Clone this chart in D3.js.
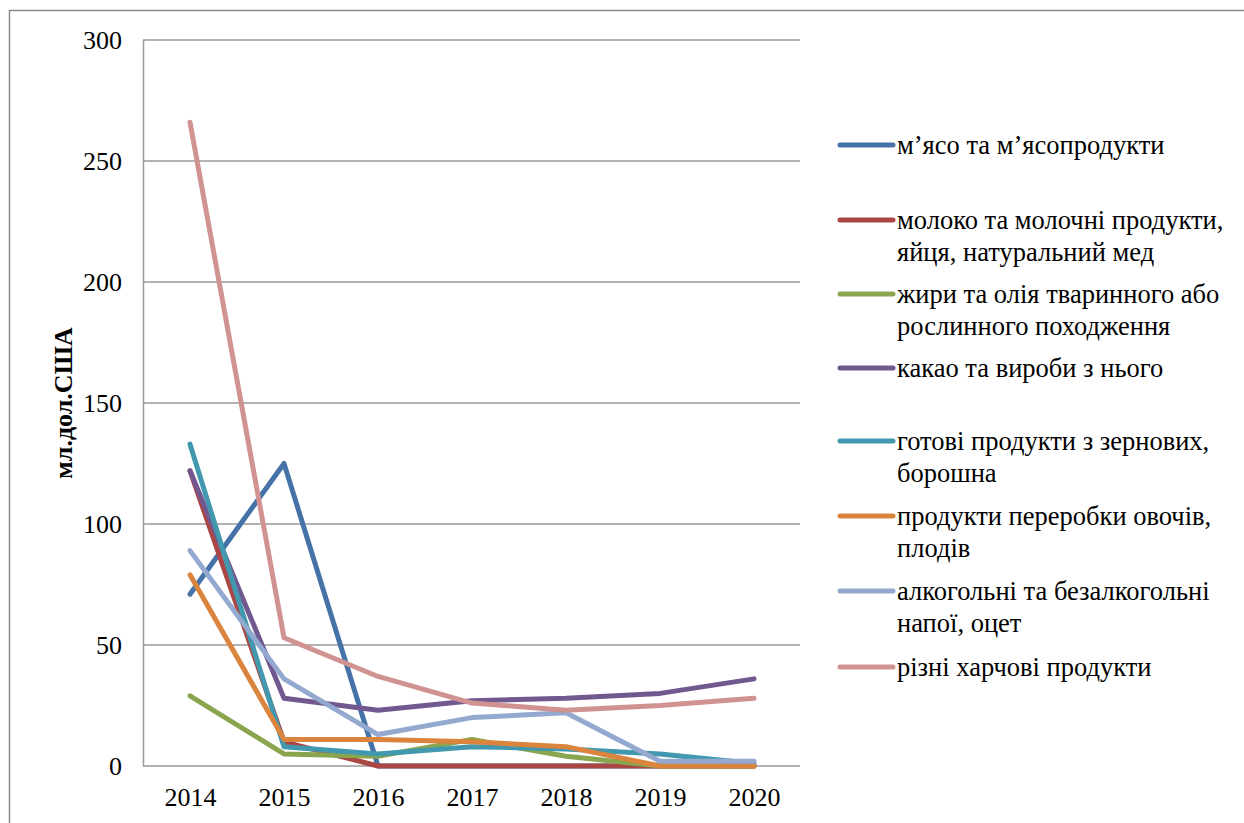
<!DOCTYPE html>
<html>
<head>
<meta charset="utf-8">
<script src="https://cdn.jsdelivr.net/npm/d3@7"></script>
<style>
  body { margin: 0; background: #fff; }
  svg text { font-family: "Times New Roman", "Liberation Serif", "DejaVu Serif", serif !important; fill: #000; }
</style>
</head>
<body>
<svg id="chart" width="1244" height="823"></svg>
<script>
// Data
const years = ['2014', '2015', '2016', '2017', '2018', '2019', '2020'];
const yTicks = [0, 50, 100, 150, 200, 250, 300];

const seriesNames = [
    ['м’ясо та м’ясопродукти'],
    ['молоко та молочні продукти,', 'яйця, натуральний мед'],
    ['жири та олія тваринного або', 'рослинного походження'],
    ['какао та вироби з нього'],
    ['готові продукти з зернових,', 'борошна'],
    ['продукти переробки овочів,', 'плодів'],
    ['алкогольні та безалкогольні', 'напої, оцет'],
    ['різні харчові продукти']
];
const seriesColors = ['#4572A7', '#AA4643', '#89A54E', '#71588F', '#4198AF', '#DB843D', '#93A9CF', '#D19392'];

const meat = [71, 125, 0, 0, 0, 0, 0];
const milk = [122, 10, 0, 0, 0, 0, 0];
const fats = [29, 5, 4, 11, 4, 0, 0];
const cocoa = [122, 28, 23, 27, 28, 30, 36];
const cereals = [133, 8, 5, 8, 7, 5, 1];
const vegetables = [79, 11, 11, 10, 8, 0, 0];
const drinks = [89, 36, 13, 20, 22, 2, 2];
const misc = [266, 53, 37, 26, 23, 25, 28];

const seriesValues = [meat, milk, fats, cocoa, cereals, vegetables, drinks, misc];

const svg = d3.select('#chart');

// outer frame (top + left only visible)
svg.append('path')
    .attr('d', 'M9.5,823 L9.5,10.5 L1244,10.5')
    .attr('fill', 'none')
    .attr('stroke', '#888')
    .attr('stroke-width', 1.5);

const plot = { left: 143, right: 801, top: 40, bottom: 766 };

const x = d3.scalePoint()
    .domain(years)
    .range([plot.left, plot.right])
    .padding(0.5);

const y = d3.scaleLinear()
    .domain([0, 300])
    .range([plot.bottom, plot.top]);

// gridlines
svg.append('g')
    .selectAll('line')
    .data(yTicks.filter(d => d > 0))
    .enter()
    .append('line')
    .attr('x1', plot.left)
    .attr('x2', plot.right - 1)
    .attr('y1', d => y(d))
    .attr('y2', d => y(d))
    .attr('stroke', '#999')
    .attr('stroke-width', 1.5);

// y axis
const yAxis = svg.append('g')
    .attr('transform', `translate(${plot.left},0)`)
    .call(d3.axisLeft(y).tickValues(yTicks).tickSize(0).tickPadding(21));
yAxis.attr('font-family', null);
yAxis.select('.domain').attr('stroke', '#999').attr('stroke-width', 1.5);
yAxis.selectAll('text')
    .style('font-size', '26px')
    .attr('dy', '0.33em');

// x axis
const xAxis = svg.append('g')
    .attr('transform', `translate(0,${plot.bottom})`)
    .call(d3.axisBottom(x).tickSize(0).tickPadding(22));
xAxis.attr('font-family', null);
xAxis.select('.domain')
    .attr('d', `M${plot.left},0H${plot.right - 1}`)
    .attr('stroke', '#999')
    .attr('stroke-width', 1.5);
xAxis.selectAll('text')
    .style('font-size', '26px');

// y title
svg.append('text')
    .attr('transform', 'translate(72,403) rotate(-90)')
    .attr('text-anchor', 'middle')
    .style('font-size', '26px')
    .style('font-weight', 'bold')
    .text('мл.дол.США');

// lines
const line = d3.line()
    .x((d, i) => x(years[i]))
    .y(d => y(d));

svg.append('g')
    .selectAll('path')
    .data(seriesValues)
    .enter()
    .append('path')
    .attr('d', d => line(d))
    .attr('fill', 'none')
    .attr('stroke', (d, i) => seriesColors[i])
    .attr('stroke-width', 5)
    .attr('stroke-linecap', 'round')
    .attr('stroke-linejoin', 'round');

// legend
const legendY = [145, 220, 294, 368, 441, 516, 591, 667];
const legend = svg.append('g')
    .selectAll('g')
    .data(seriesNames)
    .enter()
    .append('g')
    .attr('transform', (d, i) => `translate(838,${legendY[i]})`);

legend.append('line')
    .attr('x1', 2)
    .attr('x2', 55)
    .attr('y1', 0)
    .attr('y2', 0)
    .attr('stroke', (d, i) => seriesColors[i])
    .attr('stroke-width', 5)
    .attr('stroke-linecap', 'round');

legend.append('text')
    .attr('x', 59)
    .attr('y', 0)
    .style('font-size', '26.5px')
    .selectAll('tspan')
    .data(d => d)
    .enter()
    .append('tspan')
    .attr('x', 59)
    .attr('dy', (d, i) => i === 0 ? '0.34em' : '32px')
    .text(d => d);
</script>
</body>
</html>
